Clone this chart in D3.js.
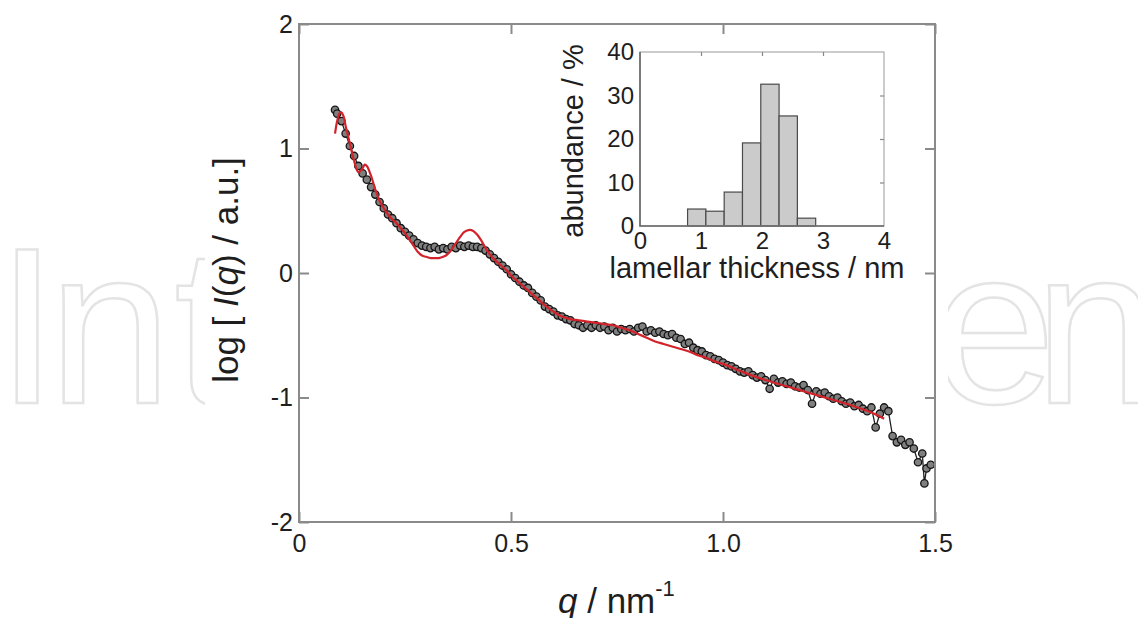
<!DOCTYPE html>
<html>
<head>
<meta charset="utf-8">
<script src="https://cdn.jsdelivr.net/npm/d3@7"></script>
<style>
  html, body { margin: 0; padding: 0; background: #fff; }
  svg text { font-family: "Liberation Sans", Arial, sans-serif; }
</style>
</head>
<body>
<svg id="chart" width="1138" height="618"></svg>
<script>
// ---------------- data ----------------
const qData = [0.085,0.09,0.10,0.11,0.12,0.13,0.14,0.15,0.16,0.17,0.18,0.19,0.20,0.21,0.22,0.23,0.24,0.25,0.26,0.27,0.28,0.29,
  0.30,0.31,0.32,0.33,0.34,0.35,0.36,0.37,0.38,0.39,0.40,0.41,0.42,0.43,0.44,0.45,0.46,0.47,0.48,0.49,
  0.50,0.51,0.52,0.53,0.54,0.55,0.56,0.57,0.58,0.59,0.60,0.61,0.62,0.63,0.64,0.65,0.66,0.67,0.68,0.69,
  0.70,0.71,0.72,0.73,0.74,0.75,0.76,0.77,0.78,0.79,0.80,0.81,0.82,0.83,0.84,0.85,0.86,0.87,0.88,0.89,
  0.90,0.91,0.92,0.93,0.94,0.95,0.96,0.97,0.98,0.99,1.00,1.01,1.02,1.03,1.04,1.05,1.06,1.07,1.08,1.09,
  1.10,1.11,1.12,1.13,1.14,1.15,1.16,1.17,1.18,1.19,1.20,1.21,1.22,1.23,1.24,1.25,1.26,1.27,1.28,1.29,
  1.30,1.31,1.32,1.33,1.34,1.35,1.36,1.37,1.38,1.39,1.40,1.41,1.42,1.43,1.44,1.45,1.46,1.47,1.475,1.48,1.49];
const logIData = [1.31,1.28,1.22,1.12,1.02,0.94,0.86,0.80,0.75,0.69,0.63,0.57,0.52,0.47,0.44,0.40,0.36,0.33,0.30,0.27,0.24,0.22,
  0.21,0.20,0.21,0.19,0.20,0.19,0.21,0.20,0.22,0.21,0.22,0.21,0.21,0.20,0.18,0.15,0.12,0.09,0.06,0.03,
  -0.01,-0.04,-0.07,-0.10,-0.12,-0.16,-0.19,-0.22,-0.27,-0.29,-0.31,-0.34,-0.35,-0.37,-0.38,-0.41,-0.42,-0.44,-0.42,-0.44,
  -0.42,-0.44,-0.43,-0.46,-0.44,-0.47,-0.45,-0.46,-0.45,-0.47,-0.44,-0.43,-0.47,-0.46,-0.48,-0.47,-0.49,-0.50,-0.49,-0.52,
  -0.53,-0.57,-0.56,-0.60,-0.62,-0.63,-0.66,-0.67,-0.69,-0.70,-0.72,-0.74,-0.75,-0.77,-0.79,-0.80,-0.79,-0.82,-0.84,-0.83,
  -0.86,-0.93,-0.85,-0.88,-0.87,-0.89,-0.88,-0.91,-0.92,-0.90,-0.94,-1.05,-0.95,-0.97,-0.96,-0.99,-1.01,-1.00,-1.03,-1.05,
  -1.04,-1.07,-1.06,-1.09,-1.11,-1.08,-1.24,-1.13,-1.08,-1.11,-1.31,-1.36,-1.34,-1.38,-1.36,-1.41,-1.52,-1.45,-1.69,-1.57,-1.54];

const qFit = [0.085,0.09,0.095,0.10,0.105,0.11,0.12,0.13,0.14,0.15,0.155,0.16,0.17,0.18,0.19,0.20,0.21,0.22,0.23,0.24,0.25,
  0.26,0.27,0.28,0.29,0.30,0.31,0.32,0.33,0.34,0.35,0.36,0.37,0.38,0.39,0.40,0.41,0.42,0.43,0.44,0.45,0.46,0.47,0.48,0.49,
  0.50,0.52,0.54,0.56,0.58,0.60,0.62,0.64,0.66,0.68,0.70,0.72,0.74,0.76,0.78,0.80,0.82,0.84,0.86,0.88,0.90,0.92,0.94,0.96,0.98,
  1.00,1.05,1.10,1.15,1.20,1.25,1.30,1.35,1.38];
const logIFit = [1.12,1.22,1.28,1.29,1.26,1.18,1.04,0.90,0.81,0.84,0.87,0.86,0.78,0.67,0.58,0.52,0.47,0.43,0.40,0.36,0.32,
  0.27,0.22,0.17,0.14,0.13,0.12,0.12,0.12,0.13,0.15,0.19,0.24,0.29,0.33,0.345,0.34,0.31,0.26,0.20,0.15,0.11,0.08,0.05,0.02,
  -0.02,-0.08,-0.14,-0.20,-0.26,-0.31,-0.35,-0.37,-0.38,-0.39,-0.40,-0.41,-0.42,-0.44,-0.46,-0.49,-0.52,-0.55,-0.57,-0.59,-0.61,-0.63,-0.66,-0.68,-0.71,
  -0.73,-0.80,-0.86,-0.91,-0.96,-1.01,-1.06,-1.12,-1.17];

const xTicks = [0, 0.5, 1.0, 1.5];
const xTickLabels = ["0", "0.5", "1.0", "1.5"];
const yTicks = [-2, -1, 0, 1, 2];
const yTickLabels = ["-2", "-1", "0", "1", "2"];

// inset histogram
const binStart = [0.78, 1.08, 1.38, 1.68, 1.98, 2.28, 2.58];
const binEnd   = [1.08, 1.38, 1.68, 1.98, 2.28, 2.58, 2.88];
const abundance = [3.9, 3.4, 7.8, 19.1, 32.6, 25.3, 1.8];
const insetXTicks = [0, 1, 2, 3, 4];
const insetYTicks = [0, 10, 20, 30, 40];

// ---------------- drawing ----------------
const svg = d3.select("#chart");
svg.append("rect").attr("width", 1138).attr("height", 618).attr("fill", "#fff");

// watermark (behind chart)
const wm = svg.append("g").attr("fill", "none").attr("stroke", "#e4e4e4").attr("stroke-width", 2.5)
  .style("font-family", "Lato, 'Open Sans', sans-serif").style("font-size", "222px").style("font-weight", "300");
wm.append("text").attr("x", "27 110 205").attr("y", 403).attr("text-anchor", "middle").text("Int");
wm.append("text").attr("x", "994 1096").attr("y", 403).attr("text-anchor", "middle").text("en");
// white panel under the figure
svg.append("rect").attr("x", 205).attr("y", 0).attr("width", 743).attr("height", 618).attr("fill", "#fff");

const x = d3.scaleLinear().domain([0, 1.5]).range([299, 935]);
const y = d3.scaleLinear().domain([-2, 2]).range([522, 24]);

const frameColor = "#8a8a8a";
const labelColor = "#1e1e1e";

// data line + markers
const dataPts = qData.map((q, i) => [q, logIData[i]]);
svg.append("path").datum(dataPts)
  .attr("fill", "none").attr("stroke", "#222").attr("stroke-width", 1.3)
  .attr("d", d3.line().x(d => x(d[0])).y(d => y(d[1])));
svg.append("g").selectAll("circle").data(dataPts).join("circle")
  .attr("cx", d => x(d[0])).attr("cy", d => y(d[1])).attr("r", 3.7)
  .attr("fill", "#7f7f7f").attr("stroke", "#151515").attr("stroke-width", 1.3);

// fit line
const fitPts = qFit.map((q, i) => [q, logIFit[i]]);
svg.append("path").datum(fitPts)
  .attr("fill", "none").attr("stroke", "#d3232a").attr("stroke-width", 2.2)
  .attr("d", d3.line().curve(d3.curveCatmullRom).x(d => x(d[0])).y(d => y(d[1])));

// frame
svg.append("rect").attr("x", 299).attr("y", 24).attr("width", 935 - 299).attr("height", 522 - 24)
  .attr("fill", "none").attr("stroke", frameColor).attr("stroke-width", 2);

// axes (inward ticks)
function styleAxis(g) {
  g.select(".domain").remove();
  g.selectAll(".tick line").attr("stroke", frameColor).attr("stroke-width", 2);
  g.selectAll(".tick text").attr("fill", labelColor).style("font-size", "25px")
    .style("font-family", "'Liberation Sans', Arial, sans-serif");
}
svg.append("g").attr("transform", "translate(0,522)")
  .call(d3.axisBottom(x).tickValues(xTicks).tickSize(-10).tickPadding(12)
    .tickFormat((d, i) => xTickLabels[i]))
  .call(styleAxis);
svg.append("g").attr("transform", "translate(0,24)")
  .call(d3.axisTop(x).tickValues(xTicks).tickSize(-10).tickFormat(""))
  .call(styleAxis);
svg.append("g").attr("transform", "translate(299,0)")
  .call(d3.axisLeft(y).tickValues(yTicks).tickSize(-10).tickPadding(6)
    .tickFormat((d, i) => yTickLabels[i]))
  .call(styleAxis);
svg.append("g").attr("transform", "translate(935,0)")
  .call(d3.axisRight(y).tickValues(yTicks).tickSize(-10).tickFormat(""))
  .call(styleAxis);

// axis titles
const xt = svg.append("text").attr("x", 558).attr("y", 613).attr("fill", labelColor).style("font-size", "35px");
xt.append("tspan").style("font-style", "italic").text("q");
xt.append("tspan").text(" / nm");
xt.append("tspan").attr("dy", -17).style("font-size", "22px").text("-1");

const yt = svg.append("text").attr("transform", "translate(238,270) rotate(-90)")
  .attr("text-anchor", "middle").attr("fill", labelColor).style("font-size", "35px");
yt.append("tspan").text("log [ ");
yt.append("tspan").style("font-style", "italic").text("I");
yt.append("tspan").text("(");
yt.append("tspan").style("font-style", "italic").text("q");
yt.append("tspan").text(") / a.u.]");

// ---------------- inset ----------------
const xi = d3.scaleLinear().domain([0, 4]).range([640, 884]);
const yi = d3.scaleLinear().domain([0, 40]).range([226, 52]);

svg.append("g").selectAll("rect").data(abundance).join("rect")
  .attr("x", (d, i) => xi(binStart[i])).attr("width", (d, i) => xi(binEnd[i]) - xi(binStart[i]))
  .attr("y", d => yi(d)).attr("height", d => yi(0) - yi(d))
  .attr("fill", "#cbcbcb").attr("stroke", "#4a4a4a").attr("stroke-width", 1.2);

// inset frame
svg.append("rect").attr("x", 640).attr("y", 52).attr("width", 884 - 640).attr("height", 226 - 52)
  .attr("fill", "none").attr("stroke", "#aaa").attr("stroke-width", 1.2);
svg.append("path").attr("d", `M640,52V226H884`).attr("fill", "none").attr("stroke", "#666").attr("stroke-width", 1.6);

function styleInset(g) {
  g.select(".domain").remove();
  g.selectAll(".tick line").attr("stroke", "#888").attr("stroke-width", 1.2);
  g.selectAll(".tick text").attr("fill", labelColor).style("font-size", "24px")
    .style("font-family", "'Liberation Sans', Arial, sans-serif");
}
svg.append("g").attr("transform", "translate(0,226)")
  .call(d3.axisBottom(xi).tickValues(insetXTicks).tickSize(0).tickPadding(6).tickFormat(d3.format("d")))
  .call(styleInset);
svg.append("g").attr("transform", "translate(0,52)")
  .call(d3.axisTop(xi).tickValues([1, 2, 3]).tickSize(-4).tickFormat(""))
  .call(styleInset);
svg.append("g").attr("transform", "translate(640,0)")
  .call(d3.axisLeft(yi).tickValues(insetYTicks).tickSize(0).tickPadding(6).tickFormat(d3.format("d")))
  .call(styleInset);
svg.append("g").attr("transform", "translate(884,0)")
  .call(d3.axisRight(yi).tickValues([10, 20, 30]).tickSize(-4).tickFormat(""))
  .call(styleInset);

svg.append("text").attr("x", 757).attr("y", 278).attr("text-anchor", "middle")
  .attr("fill", labelColor).style("font-size", "29px").text("lamellar thickness / nm");
svg.append("text").attr("transform", "translate(583,141) rotate(-90)").attr("text-anchor", "middle")
  .attr("fill", labelColor).style("font-size", "29px").text("abundance / %");
</script>
</body>
</html>
